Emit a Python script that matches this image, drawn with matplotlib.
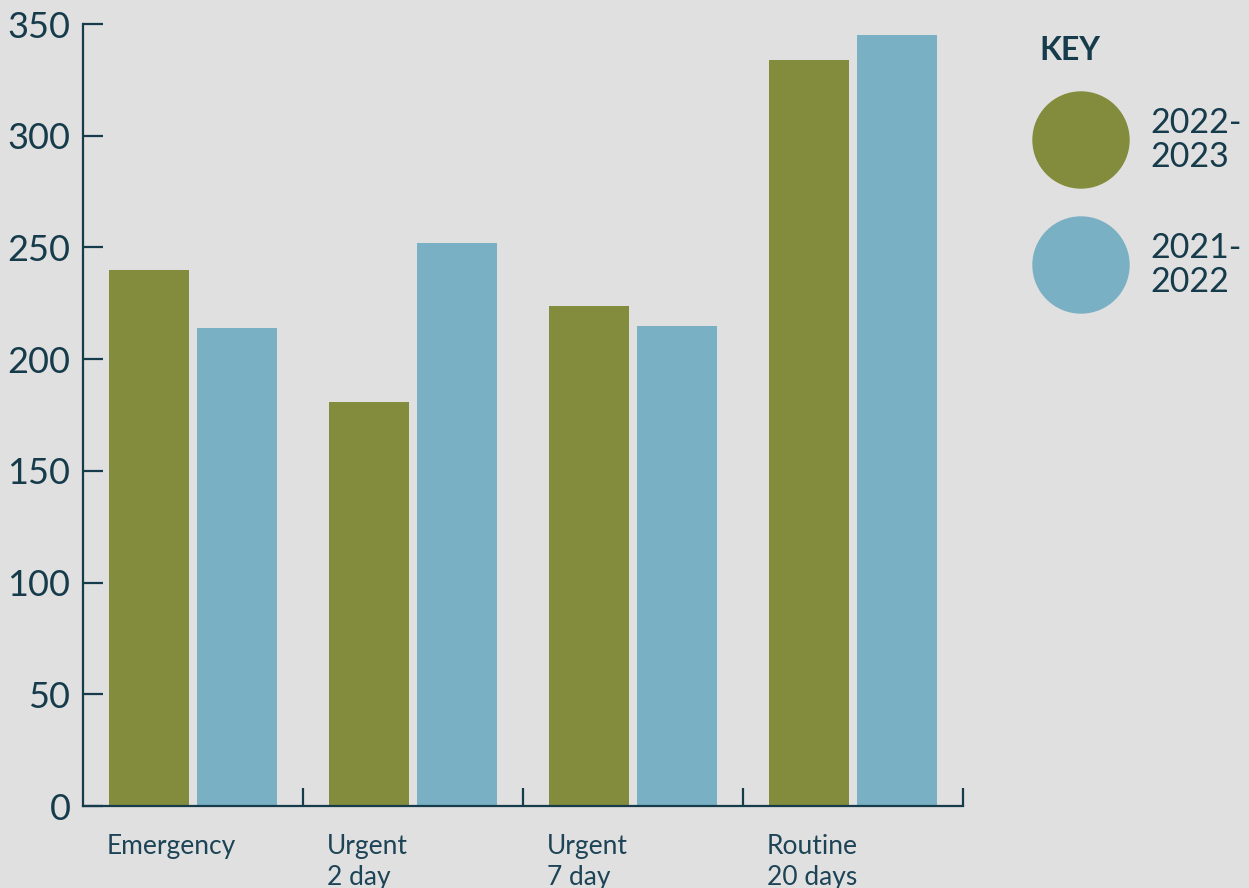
import matplotlib.pyplot as plt
from matplotlib.patches import Circle
import numpy as np

# --- datos ---
categories = ['Emergency', 'Urgent\n2 day', 'Urgent\n7 day', 'Routine\n20 days']
series_names = ['2022-\n2023', '2021-\n2022']
values_2022_23 = [240, 181, 224, 334]
values_2021_22 = [214, 252, 215, 345]

BG = '#e0e0e0'
INK = '#163b4b'
GREEN = '#838c3c'
BLUE = '#79b0c4'

plt.rcParams['font.family'] = ['Lato', 'DejaVu Sans']

W, H = 1249, 888
fig = plt.figure(figsize=(W / 100, H / 100), dpi=100, facecolor=BG)

# ejes principales (posiciones en pixeles de la referencia)
x0, x1, y0, y1 = 83, 963, 806, 24
ax = fig.add_axes([x0 / W, (H - y0) / H, (x1 - x0) / W, (y0 - y1) / H])
ax.set_facecolor(BG)

n = len(categories)
idx = np.arange(n)
off1, off2, bw = 26 / 220, 114 / 220, 80 / 220
ax.bar(idx + off1, values_2022_23, width=bw, align='edge', color=GREEN)
ax.bar(idx + off2, values_2021_22, width=bw, align='edge', color=BLUE)

ax.set_xlim(0, n)
ax.set_ylim(0, 350)

for s in ['top', 'right']:
    ax.spines[s].set_visible(False)
for s in ['left', 'bottom']:
    ax.spines[s].set_color(INK)
    ax.spines[s].set_linewidth(1.6)

ax.set_yticks(range(0, 351, 50))
ax.tick_params(axis='y', direction='in', length=14.4, width=1.6, color=INK,
               labelsize=26, labelcolor=INK, pad=9)

# separadores de categoria
ax.set_xticks(np.arange(1, n + 1))
ax.set_xticklabels([])
ax.tick_params(axis='x', which='major', direction='in', length=13, width=1.6, color=INK)
ax.set_xticks(idx + 24 / 220, minor=True)
ax.set_xticklabels(categories, minor=True)
ax.tick_params(axis='x', which='minor', length=0, labelsize=19, labelcolor='#1d4456', pad=20)
for lbl in ax.xaxis.get_minorticklabels():
    lbl.set_horizontalalignment('left')
    lbl.set_verticalalignment('top')
    lbl.set_linespacing(1.3)

# --- leyenda (KEY) ---
kax = fig.add_axes([0, 0, 1, 1])
kax.set_xlim(0, W)
kax.set_ylim(H, 0)
kax.axis('off')
kax.text(1039, 51, 'KEY', fontsize=23, fontweight='bold', color=INK, va='center', ha='left')
for i, (name, col) in enumerate(zip(series_names, [GREEN, BLUE])):
    cy = 140 + i * 125
    kax.add_patch(Circle((1081, cy), 48, color=col))
    kax.text(1150, cy, name, fontsize=24.5, color=INK, va='center', ha='left', linespacing=1.05)

plt.savefig('out.png', dpi=100, facecolor=BG)
